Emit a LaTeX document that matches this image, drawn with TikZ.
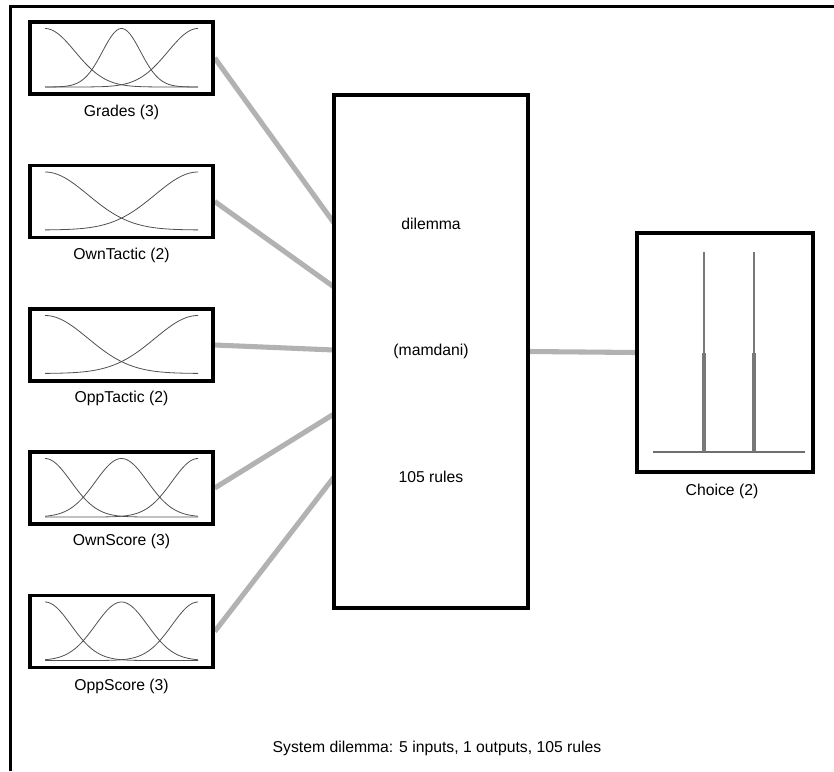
\documentclass[tikz,border=0pt]{standalone}
\usepackage{fontspec}
\setmainfont{Liberation Sans}
\begin{document}
\begin{tikzpicture}[x=0.75pt,y=-0.75pt,
  font=\fontsize{11.8pt}{13.5pt}\selectfont,
  inbox/.style={draw=black,line width=2.6pt,fill=white,minimum width=137.25pt,minimum height=54pt,inner sep=0pt},
  sysbox/.style={draw=black,line width=2.6pt,fill=white,minimum width=145.5pt,minimum height=384.75pt,inner sep=0pt},
  outbox/.style={draw=black,line width=2.6pt,fill=white,minimum width=132pt,minimum height=179.25pt,inner sep=0pt},
  conn/.style={draw={rgb,255:red,178;green,178;blue,178},line width=3.8pt},
  mf/.style={draw={rgb,255:red,80;green,80;blue,80},line width=0.6pt},
  lbl/.style={inner sep=0pt,anchor=center}]
\useasboundingbox (0,0) rectangle (834,771);
\fill[white] (0,0) rectangle (834,771);
% frame
\draw[line width=2.25pt] (10,771) -- (10,6) -- (834,6);
% connection points on the system box
\coordinate (p1) at (334,223);
\coordinate (p2) at (334,287);
\coordinate (p3) at (334,350);
\coordinate (p4) at (334,414);
\coordinate (p5) at (334,477);
% system box
\node[sysbox] (sys) at (431,351.5) {};
% input boxes
\node[inbox] (in1) at (121.5,58) {};
\node[inbox] (in2) at (121.5,201.5) {};
\node[inbox] (in3) at (121.5,345) {};
\node[inbox] (in4) at (121.5,488) {};
\node[inbox] (in5) at (121.5,631.5) {};
% output box
\node[outbox] (out) at (725,352.5) {};
% connectors
\draw[conn] (in1.east) -- (p1);
\draw[conn] (in2.east) -- (p2);
\draw[conn] (in3.east) -- (p3);
\draw[conn] (in4.east) -- (p4);
\draw[conn] (in5.east) -- (p5);
\draw[conn] (sys.east) -- (out.west);
% redraw box borders over connector ends
\node[sysbox,fill=none] at (sys) {};
\foreach \n in {in1,in2,in3,in4,in5} {\node[inbox,fill=none] at (\n) {};}
\node[outbox,fill=none] at (out) {};
% membership functions: Grades (top 28.5, bottom 87)
\draw[mf] plot[domain=45:198,samples=80] ({\x},{87-58.5*exp(-0.5*((\x-45)/30)^2)});
\draw[mf] plot[domain=45:198,samples=80] ({\x},{87-58.5*exp(-0.5*((\x-121.5)/19)^2)});
\draw[mf] plot[domain=45:198,samples=80] ({\x},{87-58.5*exp(-0.5*((\x-198)/30)^2)});
% OwnTactic (top 172, bottom 230)
\draw[mf] plot[domain=45:198,samples=80] ({\x},{230-58*exp(-0.5*((\x-45)/43)^2)});
\draw[mf] plot[domain=45:198,samples=80] ({\x},{230-58*exp(-0.5*((\x-198)/43)^2)});
% OppTactic (top 315.5, bottom 373.5)
\draw[mf] plot[domain=45:198,samples=80] ({\x},{373.5-58*exp(-0.5*((\x-45)/43)^2)});
\draw[mf] plot[domain=45:198,samples=80] ({\x},{373.5-58*exp(-0.5*((\x-198)/43)^2)});
% OwnScore (top 458.5, bottom 517)
\draw[mf] plot[domain=45:198,samples=80] ({\x},{517-58.5*exp(-0.5*((\x-45)/26)^2)});
\draw[mf] plot[domain=45:198,samples=80] ({\x},{517-58.5*exp(-0.5*((\x-121.5)/26)^2)});
\draw[mf] plot[domain=45:198,samples=80] ({\x},{517-58.5*exp(-0.5*((\x-198)/26)^2)});
% OppScore (top 602, bottom 660.5)
\draw[mf] plot[domain=45:198,samples=80] ({\x},{660.5-58.5*exp(-0.5*((\x-45)/26)^2)});
\draw[mf] plot[domain=45:198,samples=80] ({\x},{660.5-58.5*exp(-0.5*((\x-121.5)/26)^2)});
\draw[mf] plot[domain=45:198,samples=80] ({\x},{660.5-58.5*exp(-0.5*((\x-198)/26)^2)});
% output membership functions
\draw[draw={rgb,255:red,110;green,110;blue,110},line width=1pt] (653,452) -- (805,452);
\draw[draw={rgb,255:red,120;green,120;blue,120},line width=1.1pt] (704,252) -- (704,353);
\draw[draw={rgb,255:red,120;green,120;blue,120},line width=1.1pt] (754,252) -- (754,353);
\draw[draw={rgb,255:red,120;green,120;blue,120},line width=2.4pt] (704,353) -- (704,452);
\draw[draw={rgb,255:red,120;green,120;blue,120},line width=2.4pt] (754,353) -- (754,452);
% labels
\node[lbl] (l1) at (121.5,112) {Grades (3)};
\node[lbl] (l2) at (121.5,255) {OwnTactic (2)};
\node[lbl] (l3) at (121.5,398) {OppTactic (2)};
\node[lbl] (l4) at (121.5,541) {OwnScore (3)};
\node[lbl] (l5) at (121.5,686) {OppScore (3)};
\node[lbl] (lo) at (722,491) {Choice (2)};
\node[lbl] (t1) at (431,224) {dilemma};
\node[lbl] (t2) at (431,351) {(mamdani)};
\node[lbl] (t3) at (431,477) {105 rules};
\node[lbl] (cap) at (437,748) {System dilemma: 5 inputs, 1 outputs, 105 rules};
\end{tikzpicture}
\end{document}
